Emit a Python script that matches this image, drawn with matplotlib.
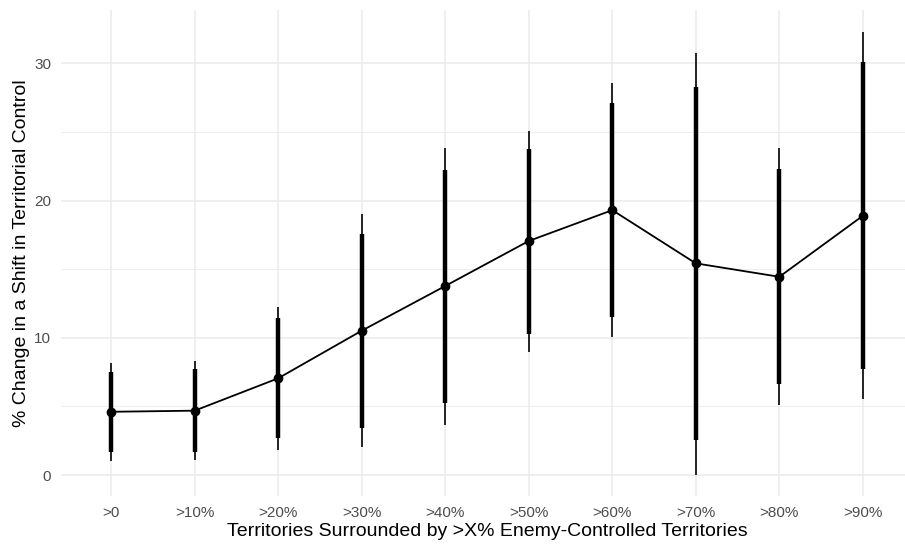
import matplotlib
matplotlib.use("Agg")
import matplotlib.pyplot as plt
from matplotlib.ticker import MultipleLocator
import numpy as np

# categories and estimates
categories = [">0", ">10%", ">20%", ">30%", ">40%", ">50%", ">60%", ">70%", ">80%", ">90%"]
estimate = [4.61, 4.69, 7.05, 10.52, 13.78, 17.06, 19.31, 15.43, 14.45, 18.90]
# inner (thick) interval
inner_lo = [1.70, 1.70, 2.67, 3.45, 5.27, 10.28, 11.54, 2.55, 6.61, 7.70]
inner_hi = [7.53, 7.70, 11.44, 17.60, 22.23, 23.76, 27.09, 28.30, 22.30, 30.13]
# outer (thin) interval
outer_lo = [1.04, 1.09, 1.82, 2.07, 3.67, 8.99, 10.08, 0.00, 5.10, 5.54]
outer_hi = [8.14, 8.31, 12.24, 19.00, 23.81, 25.10, 28.55, 30.80, 23.86, 32.27]

plt.rcParams['font.family'] = ['Liberation Sans', 'DejaVu Sans']

fig = plt.figure(figsize=(9.05, 5.47), dpi=100)
W, H = 905, 547
# panel: left 61, right 913 (slightly cropped), top 10, bottom 496
ax = fig.add_axes([61 / W, 1 - 496 / H, (913 - 61) / W, (496 - 10) / H])

x = np.arange(len(categories))

for side in ax.spines.values():
    side.set_visible(False)

ax.set_xlim(-0.6, len(categories) - 0.4)
ax.set_ylim(-1.53, 33.9)

ax.yaxis.set_major_locator(MultipleLocator(10))
ax.yaxis.set_minor_locator(MultipleLocator(5))
ax.set_xticks(x)
ax.set_xticklabels(categories)

ax.grid(which="major", color="#EBEBEB", linewidth=1.1)
ax.grid(which="minor", axis="y", color="#EBEBEB", linewidth=0.6)
ax.set_axisbelow(True)

ax.tick_params(which="both", length=0)
ax.tick_params(axis="x", labelsize=11, labelcolor="#4D4D4D", pad=7)
ax.tick_params(axis="y", labelsize=11, labelcolor="#4D4D4D", pad=7)

# intervals
ax.vlines(x, outer_lo, outer_hi, color="black", linewidth=1.2, zorder=3)
ax.vlines(x, inner_lo, inner_hi, color="black", linewidth=3.2, zorder=3)

# estimates
ax.plot(x, estimate, color="black", linewidth=1.3, zorder=4)
ax.plot(x, estimate, "o", color="black", markersize=6, zorder=5)

ax.set_xlabel("Territories Surrounded by >X% Enemy-Controlled Territories", fontsize=14, labelpad=2)
ax.set_ylabel("% Change in a Shift in Territorial Control", fontsize=14, labelpad=3)

fig.savefig("out.png", dpi=100)
